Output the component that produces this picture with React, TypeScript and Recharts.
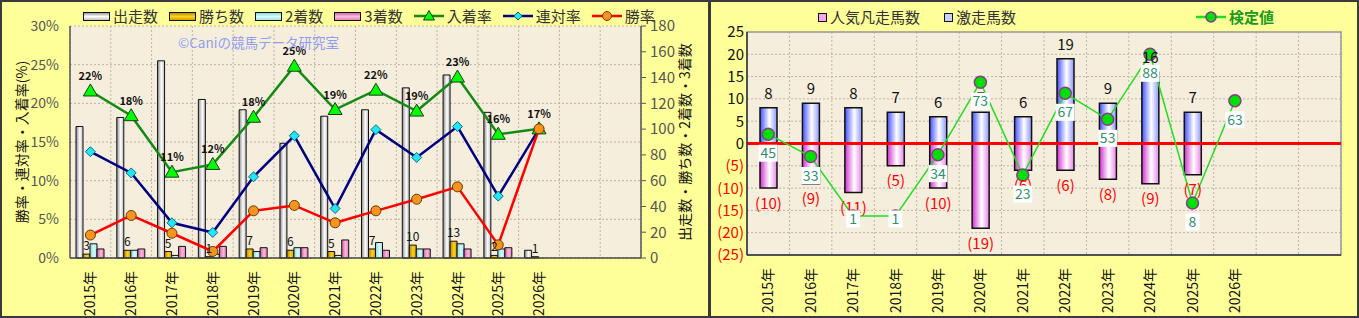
import {
    ComposedChart,
    Bar,
    Line,
    XAxis,
    YAxis,
    CartesianGrid,
    LabelList,
    ReferenceLine,
    ReferenceArea
} from 'recharts';

// カテゴリ (右端の2枠は空き)
const categories = ['2015年', '2016年', '2017年', '2018年', '2019年', '2020年', '2021年', '2022年', '2023年', '2024年', '2025年', '2026年', '', ' '];

// 左: 出走数・着別数
const starters = [102, 109, 153, 123, 115, 89, 110, 115, 132, 142, 113, 6, null, null];
const wins = [3, 6, 5, 1, 7, 6, 5, 7, 10, 13, 2, 1, null, null];
const seconds = [11, 6, 2, 3, 5, 8, 2, 12, 7, 11, 7, null, null, null];
const thirds = [7, 7, 9, 9, 8, 8, 14, 6, 7, 7, 8, null, null, null];

// 左: 率 (%)
const placeRate = [21.6, 18.4, 11.1, 12.1, 18.2, 24.8, 19.2, 21.7, 19.0, 23.4, 16.0, 16.7, null, null];
const quinellaRate = [13.75, 11.0, 4.55, 3.3, 10.5, 15.8, 6.4, 16.6, 13.0, 17.0, 8.0, 16.7, null, null];
const winRate = [2.97, 5.5, 3.2, 0.85, 6.1, 6.8, 4.55, 6.1, 7.6, 9.2, 1.7, 16.7, null, null];

const rateTicks = [0, 5, 10, 15, 20, 25, 30];
const countTicks = [0, 20, 40, 60, 80, 100, 120, 140, 160, 180];

// 右: 激走 / 人気凡走 / 検定値
const hotRunners = [8, 9, 8, 7, 6, 7, 6, 19, 9, 16, 7, null, null, null];
const failedFavorites = [10, 9, 11, 5, 10, 19, 6, 6, 8, 9, 7, null, null, null];
const testValue = [45, 33, 1, 1, 34, 73, 23, 67, 53, 88, 8, 63, null, null];

const diffTicks = [-25, -20, -15, -10, -5, 0, 5, 10, 15, 20, 25];

const leftData = categories.map((cat, i) => ({
    cat,
    starters: starters[i],
    wins: wins[i],
    seconds: seconds[i],
    thirds: thirds[i],
    place: placeRate[i],
    quinella: quinellaRate[i],
    win: winRate[i]
}));

const rightData = categories.map((cat, i) => ({
    cat,
    hot: hotRunners[i],
    fail: failedFavorites[i] == null ? null : -(failedFavorites[i] as number),
    test: testValue[i]
}));

const JP = '"Noto Sans CJK JP", "Noto Sans", sans-serif';
const BG = '#ffff99';
const PLOT_BG = '#f6eedc';
const GRID = '#bdb4a4';

// カテゴリ境界に縦グリッド
const boundaries = (n: number) => ({offset}: any) =>
    Array.from({length: n + 1}, (_, i) => offset.left + (offset.width * i) / n);

const YearTick = ({x, y, payload}: any) => (
    <text
        transform={`translate(${x},${y + 5}) rotate(-90)`}
        textAnchor="end"
        dy="0.36em"
        fontSize={14}
        fill="#111"
        fontFamily={JP}
    >
        {payload.value}
    </text>
);

const Triangle = (p: any) => {
    if (p.cy == null || p.payload?.place == null) return <g key={p.index}/>;
    const {cx, cy} = p;
    return (
        <path key={p.index} d={`M${cx},${cy - 7} L${cx + 7},${cy + 5} L${cx - 7},${cy + 5} Z`}
              fill="#00ff00" stroke="#1a3d1a" strokeWidth={1}/>
    );
};

const Diamond = (p: any) => {
    if (p.cy == null || p.payload?.quinella == null) return <g key={p.index}/>;
    const {cx, cy} = p;
    return (
        <path key={p.index} d={`M${cx},${cy - 5} L${cx + 5},${cy} L${cx},${cy + 5} L${cx - 5},${cy} Z`}
              fill="#22e6f0" stroke="#0a6b8a" strokeWidth={1}/>
    );
};

const Orange = (p: any) => {
    if (p.cy == null || p.payload?.win == null) return <g key={p.index}/>;
    return <circle key={p.index} cx={p.cx} cy={p.cy} r={5} fill="#f7941d" stroke="#6b3a00" strokeWidth={1}/>;
};

const GreenDot = (p: any) => {
    if (p.cy == null || p.payload?.test == null) return <g key={p.index}/>;
    return <circle key={p.index} cx={p.cx} cy={p.cy} r={6} fill="#00e000" stroke="#8a3a8a" strokeWidth={1.5}/>;
};

const DiffTick = ({x, y, payload}: any) => {
    const v = payload.value as number;
    return (
        <text x={x} y={y} dy="0.36em" textAnchor="end" fontSize={15} fill={v < 0 ? '#ff0000' : '#111'}
              fontFamily={JP}>
            {v < 0 ? `(${-v})` : v}
        </text>
    );
};

const HotLabel = (p: any) => {
    if (p.value == null) return null;
    return (
        <text x={p.x + p.width / 2} y={p.y - 9} textAnchor="middle" fontSize={15} fill="#111" fontFamily={JP}>
            {p.value}
        </text>
    );
};

const FailLabel = (p: any) => {
    if (p.value == null) return null;
    const bottom = Math.max(p.y, p.y + p.height);
    return (
        <text x={p.x + p.width / 2} y={bottom + 15} dy="0.36em" textAnchor="middle" fontSize={15} fill="#ff0000"
              fontFamily={JP}>
            ({Math.abs(p.value)})
        </text>
    );
};

const TestLabel = (p: any) => {
    if (p.value == null) return null;
    const s = String(p.value);
    const w = s.length > 1 ? 19 : 14;
    const cy = p.y + (p.value < 5 ? 3 : 19);
    return (
        <g>
            <rect x={p.x - w / 2} y={cy - 8.5} width={w} height={17} fill="#ffffff"/>
            <text x={p.x} y={cy} dy="0.36em" textAnchor="middle" fontSize={14} fill="#2f8f6a" fontFamily={JP}>
                {s}
            </text>
        </g>
    );
};

const BarSwatch = ({grad}: {grad: string}) => (
    <svg width={27} height={9} style={{display: 'block'}}>
        <defs>
            <linearGradient id={`lg-${grad}`} x1="0" y1="0" x2="0" y2="1">
                <stop offset="0%" stopColor={gradients[grad][0]}/>
                <stop offset="50%" stopColor={gradients[grad][1]}/>
                <stop offset="100%" stopColor={gradients[grad][2]}/>
            </linearGradient>
        </defs>
        <rect x={0.5} y={0.5} width={26} height={8} fill={`url(#lg-${grad})`} stroke="#111"/>
    </svg>
);

const LineSwatch = ({color, marker}: {color: string; marker: 'tri' | 'dia' | 'cir' | 'green'}) => (
    <svg width={30} height={14} style={{display: 'block'}}>
        <line x1={0} y1={7} x2={30} y2={7} stroke={color} strokeWidth={2.5}/>
        {marker === 'tri' && <path d="M15,1.5 L20.5,11 L9.5,11 Z" fill="#00ff00" stroke="#1a3d1a"/>}
        {marker === 'dia' && <path d="M15,3 L19,7 L15,11 L11,7 Z" fill="#22e6f0" stroke="#0a6b8a"/>}
        {marker === 'cir' && <circle cx={15} cy={7} r={4.5} fill="#f7941d" stroke="#6b3a00"/>}
        {marker === 'green' && <circle cx={15} cy={7} r={5} fill="#00e000" stroke="#8a3a8a" strokeWidth={1.5}/>}
    </svg>
);

const gradients: Record<string, string[]> = {
    starters: ['#8c8c8c', '#ffffff', '#b5b5b5'],
    wins: ['#b38600', '#ffd21a', '#c99a00'],
    seconds: ['#7fd6dc', '#d8fbfc', '#9de3e8'],
    thirds: ['#d25aa0', '#f9b9dc', '#e07fb8'],
    hot: ['#4050ff', '#ffffff', '#8c96ff'],
    fail: ['#d030d0', '#ffffff', '#e884e8']
};

const HGrad = ({id}: {id: string}) => (
    <linearGradient id={`g-${id}`} x1="0" y1="0" x2="1" y2="0">
        <stop offset="0%" stopColor={gradients[id][0]}/>
        <stop offset="55%" stopColor={gradients[id][1]}/>
        <stop offset="100%" stopColor={gradients[id][2]}/>
    </linearGradient>
);

const legendText = {fontSize: 15, color: '#333', fontFamily: JP, lineHeight: '16px'};

const LeftLegend = () => (
    <div style={{position: 'absolute', left: 83, top: 8, display: 'flex', alignItems: 'center', gap: 11}}>
        {[
            ['starters', '出走数'],
            ['wins', '勝ち数'],
            ['seconds', '2着数'],
            ['thirds', '3着数']
        ].map(([g, t]) => (
            <div key={g} style={{display: 'flex', alignItems: 'center', gap: 3}}>
                <BarSwatch grad={g}/>
                <span style={legendText}>{t}</span>
            </div>
        ))}
        <div style={{display: 'flex', alignItems: 'center', gap: 3}}>
            <LineSwatch color="#138a13" marker="tri"/>
            <span style={legendText}>入着率</span>
        </div>
        <div style={{display: 'flex', alignItems: 'center', gap: 3}}>
            <LineSwatch color="#000080" marker="dia"/>
            <span style={legendText}>連対率</span>
        </div>
        <div style={{display: 'flex', alignItems: 'center', gap: 3}}>
            <LineSwatch color="#ff0000" marker="cir"/>
            <span style={legendText}>勝率</span>
        </div>
    </div>
);

const RightLegend = () => (
    <>
        <div style={{position: 'absolute', left: 818 - 709, top: 9, display: 'flex', alignItems: 'center', gap: 3}}>
            <svg width={9} height={9}><rect x={0.5} y={0.5} width={8} height={8} fill="#f6a8f0" stroke="#111"/></svg>
            <span style={legendText}>人気凡走馬数</span>
        </div>
        <div style={{position: 'absolute', left: 944 - 709, top: 9, display: 'flex', alignItems: 'center', gap: 3}}>
            <svg width={9} height={9}><rect x={0.5} y={0.5} width={8} height={8} fill="#c9d0ff" stroke="#111"/></svg>
            <span style={legendText}>激走馬数</span>
        </div>
        <div style={{position: 'absolute', left: 1196 - 709, top: 9, display: 'flex', alignItems: 'center', gap: 3}}>
            <LineSwatch color="#22dd22" marker="green"/>
            <span style={{...legendText, color: '#1a9a1a', fontWeight: 'bold'}}>検定値</span>
        </div>
    </>
);

const LeftChart = () => (
    <div style={{position: 'absolute', left: 0, top: 0, width: 709, height: 318}}>
        <ComposedChart width={709} height={318} data={leftData}
                       margin={{top: 26, right: 0, bottom: 0, left: 0}} barGap={0} barSize={7}>
            <defs>
                <HGrad id="starters"/>
                <HGrad id="wins"/>
                <HGrad id="seconds"/>
                <HGrad id="thirds"/>
            </defs>
            <CartesianGrid yAxisId="rate" fill={PLOT_BG} stroke={GRID} strokeDasharray="2 2"
                           verticalCoordinatesGenerator={boundaries(categories.length)}/>
            <XAxis dataKey="cat" interval={0} height={60} tick={<YearTick/>} tickLine={false}
                   axisLine={{stroke: '#444', strokeWidth: 1.5}}/>
            <YAxis yAxisId="rate" domain={[0, 30]} ticks={rateTicks} interval={0} width={70}
                   tickFormatter={(v) => `${v}%`}
                   tick={{fontSize: 14, fill: '#555'}} tickLine={false} tickSize={0} tickMargin={11}
                   axisLine={{stroke: '#555', strokeWidth: 1.5}}
                   label={{
                       value: '勝率・連対率・入着率(%)', angle: -90, position: 'insideLeft', offset: 22,
                       style: {fontSize: 14, fill: '#111', textAnchor: 'middle'}
                   }}/>
            <YAxis yAxisId="count" orientation="right" domain={[0, 180]} ticks={countTicks} interval={0}
                   width={68}
                   tick={{fontSize: 15, fill: '#555'}} tickSize={5} tickMargin={4}
                   tickLine={{stroke: '#555'}} axisLine={{stroke: '#555', strokeWidth: 1.5}}
                   label={{
                       value: '出走数・勝ち数・2着数・3着数', angle: -90, position: 'insideRight', offset: 24,
                       style: {fontSize: 14, fill: '#111', textAnchor: 'middle'}
                   }}/>
            <Bar yAxisId="count" dataKey="starters" fill="url(#g-starters)" stroke="#111" strokeWidth={1}
                 isAnimationActive={false}/>
            <Bar yAxisId="count" dataKey="wins" fill="url(#g-wins)" stroke="#111" strokeWidth={1}
                 isAnimationActive={false}>
                <LabelList dataKey="wins" position="top" offset={4}
                           style={{fontSize: 12, fill: '#111'}}/>
            </Bar>
            <Bar yAxisId="count" dataKey="seconds" fill="url(#g-seconds)" stroke="#111" strokeWidth={1}
                 isAnimationActive={false}/>
            <Bar yAxisId="count" dataKey="thirds" fill="url(#g-thirds)" stroke="#111" strokeWidth={1}
                 isAnimationActive={false}/>
            <Line yAxisId="rate" dataKey="place" stroke="#138a13" strokeWidth={2.5} dot={Triangle}
                  activeDot={false} isAnimationActive={false}>
                <LabelList dataKey="place" position="top" offset={11}
                           formatter={(v: any) => (v == null ? '' : `${Math.round(v)}%`)}
                           style={{fontSize: 11, fontWeight: 'bold', fill: '#111'}}/>
            </Line>
            <Line yAxisId="rate" dataKey="quinella" stroke="#000080" strokeWidth={2.5} dot={Diamond}
                  activeDot={false} isAnimationActive={false}/>
            <Line yAxisId="rate" dataKey="win" stroke="#ff0000" strokeWidth={2.5} dot={Orange}
                  activeDot={false} isAnimationActive={false}/>
        </ComposedChart>
        <div style={{
            position: 'absolute', left: 178, top: 32, fontSize: 13.5, color: '#8f9df2', fontFamily: JP,
            whiteSpace: 'nowrap'
        }}>©Caniの競馬データ研究室
        </div>
        <LeftLegend/>
    </div>
);

const RightChart = () => (
    <div style={{position: 'absolute', left: 709, top: 0, width: 650, height: 318}}>
        <ComposedChart width={650} height={318} data={rightData} stackOffset="sign"
                       margin={{top: 32, right: 18, bottom: 0, left: 0}} barSize={17}>
            <defs>
                <HGrad id="hot"/>
                <HGrad id="fail"/>
            </defs>
            <CartesianGrid fill={PLOT_BG} stroke={GRID} strokeDasharray="2 2"
                           verticalCoordinatesGenerator={boundaries(categories.length)}/>
            <ReferenceArea y1={-25} y2={25} fill="none" stroke="#9a9a9a" strokeWidth={1.5}/>
            <XAxis dataKey="cat" interval={0} height={63} tick={<YearTick/>} tickLine={false}
                   axisLine={{stroke: '#333', strokeWidth: 1.5}}/>
            <YAxis domain={[-25, 25]} ticks={diffTicks} interval={0} width={38} tick={<DiffTick/>}
                   tickLine={false}
                   tickSize={0} tickMargin={3} axisLine={{stroke: '#333', strokeWidth: 1.5}}/>
            <YAxis yAxisId="test" orientation="right" domain={[-20, 100]} hide/>
            <Bar dataKey="hot" stackId="s" fill="url(#g-hot)" stroke="#111" strokeWidth={1.5}
                 isAnimationActive={false}>
                <LabelList dataKey="hot" content={HotLabel}/>
            </Bar>
            <Bar dataKey="fail" stackId="s" fill="url(#g-fail)" stroke="#111" strokeWidth={1.5}
                 isAnimationActive={false}>
                <LabelList dataKey="fail" content={FailLabel}/>
            </Bar>
            <ReferenceLine y={0} stroke="#ff0000" strokeWidth={3}/>
            <Line yAxisId="test" dataKey="test" stroke="#22dd22" strokeWidth={1.5} dot={GreenDot}
                  activeDot={false} isAnimationActive={false}>
                <LabelList dataKey="test" content={TestLabel}/>
            </Line>
        </ComposedChart>
        <RightLegend/>
    </div>
);

export default function App() {
    return (
        <div style={{
            position: 'absolute', left: 0, top: 0, width: 1359, height: 318, background: BG,
            fontFamily: JP, overflow: 'hidden'
        }}>
            <LeftChart/>
            <RightChart/>
            <div style={{
                position: 'absolute', left: 0, top: 0, width: 1359, height: 318, boxSizing: 'border-box',
                border: '2px solid #3a3a3a', pointerEvents: 'none'
            }}/>
            <div style={{position: 'absolute', left: 708, top: 0, width: 3, height: 318, background: '#3a3a3a'}}/>
        </div>
    );
}
